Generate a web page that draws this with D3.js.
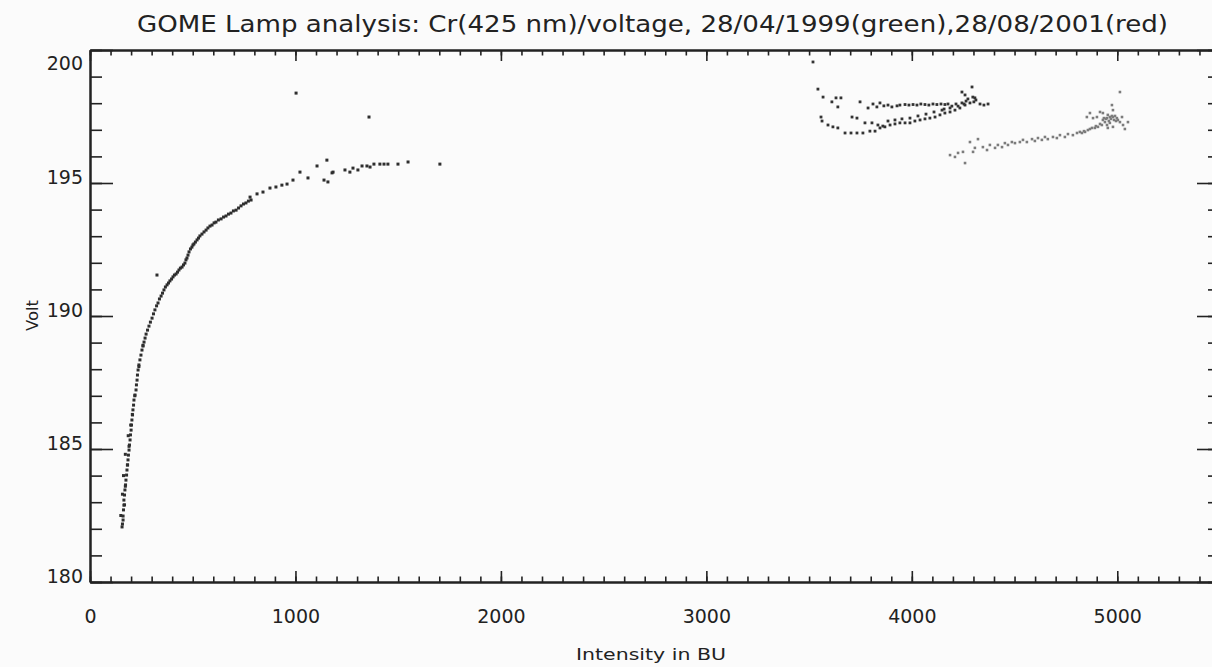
<!DOCTYPE html>
<html>
<head>
<meta charset="utf-8">
<script src="https://cdn.jsdelivr.net/npm/d3@7"></script>
<style>
  body { margin: 0; background: #fbfbfb; }
  svg { display: block; font-family: "DejaVu Sans", sans-serif; }
</style>
</head>
<body>
<div id="chart"></div>
<script>
// GOME lamp scan: intensity (BU) vs. lamp voltage.

const width = 1212;
const height = 667;

const titleText = "GOME Lamp analysis: Cr(425 nm)/voltage, 28/04/1999(green),28/08/2001(red)";
const xLabel = "Intensity in BU";
const yLabel = "Volt";

const xTicks = [0, 1000, 2000, 3000, 4000, 5000];
const yTicks = [180, 185, 190, 195, 200];

// warm-up curve, [intensity, volt]
const warmupPoints = [
  [156,182.07],[158,182.18],[161,182.33],[161,182.48],[163,182.71],[165,182.89],[165,183.08],[168,183.27],
  [170,183.46],[173,183.65],[175,183.83],[178,184.02],[180,184.21],[183,184.40],[185,184.59],[187,184.77],
  [190,184.96],[192,185.15],[195,185.34],[197,185.53],[200,185.71],[202,185.90],[204,186.09],[207,186.28],
  [209,186.47],[212,186.65],[214,186.84],[219,187.03],[224,187.22],[226,187.41],[229,187.59],[231,187.78],
  [234,187.97],[238,188.16],[243,188.35],[248,188.53],[253,188.72],[258,188.87],[263,189.02],[268,189.17],
  [273,189.32],[280,189.47],[287,189.62],[294,189.77],[302,189.92],[309,190.08],[316,190.23],[324,190.38],
  [331,190.49],[338,190.64],[346,190.75],[353,190.86],[360,190.98],[367,191.09],[375,191.17],[382,191.24],
  [389,191.32],[397,191.39],[404,191.47],[411,191.54],[419,191.58],[426,191.65],[433,191.73],[440,191.80],
  [448,191.84],[455,191.92],[462,191.99],[467,192.11],[472,192.18],[477,192.29],[482,192.41],[489,192.52],
  [496,192.59],[501,192.67],[506,192.71],[513,192.78],[521,192.86],[528,192.93],[535,193.01],[545,193.08],
  [555,193.16],[565,193.23],[574,193.31],[584,193.38],[594,193.42],[604,193.50],[613,193.53],[625,193.61],
  [638,193.65],[650,193.72],[662,193.76],[674,193.83],[686,193.87],[698,193.95],[711,193.98],[723,194.06],
  [735,194.14],[747,194.21],[759,194.25],[771,194.32],[784,194.36],
  [150,182.5],[168,182.9],[158,183.3],[172,183.6],[163,184.0],[182,184.4],[172,184.8],[190,185.1],
  [186,185.5],[198,185.9],[206,186.3],[218,187.0],[238,188.1],[258,188.9],
  [779,194.47],[813,194.59],[842,194.66],[876,194.81],[905,194.85],[934,194.92],[959,194.96],[988,195.11],
  [1022,195.41],[1061,195.19],[1105,195.64],[1139,195.11],[1153,195.86],[1158,195.04],[1178,195.38],
  [1183,195.41],[1241,195.49],[1265,195.41],[1280,195.56],[1304,195.49],[1324,195.64],[1348,195.64],
  [1363,195.60],[1382,195.71],[1411,195.71],[1431,195.71],[1450,195.71],[1499,195.71],[1548,195.79],
  [1703,195.71],
  [326,191.54],[1003,198.38],[1358,197.48]
];

// 28/04/1999 scan, [intensity, volt]
const green1999Points = [
  [3519,199.55],[3543,198.53],[3568,198.23],[3611,198.05],[3631,198.20],[3655,198.20],[3640,197.86],[3748,198.05],
  [3787,197.82],[3811,197.97],[3830,197.86],[3845,198.01],[3864,197.90],[3884,197.93],[3903,197.86],[3928,197.90],
  [3942,197.93],[3967,197.95],[3986,197.93],[4006,197.95],[4025,197.93],[4044,197.97],[4064,197.95],[4083,197.93],
  [4103,197.97],[4122,197.95],[4142,197.97],[4161,197.95],[4176,197.97],
  [3558,197.48],[3563,197.33],[3592,197.18],[3616,197.11],[3640,197.07],[3675,196.88],[3704,196.88],[3733,196.88],
  [3762,196.88],[3796,196.95],[3821,196.95],[3845,197.07],[3869,197.11],[3894,197.18],[3918,197.22],[3942,197.26],
  [3967,197.26],[3991,197.26],[4015,197.33],[4040,197.37],[4064,197.41],[4088,197.44],[4113,197.48],[4137,197.56],
  [4161,197.63],[4186,197.67],[4210,197.74],[4234,197.82],[4259,197.93],[4283,198.01],
  [3709,197.48],[3733,197.44],[3772,197.26],[3806,197.26],[3835,197.18],[3859,197.14],[3884,197.33],[3918,197.37],
  [3952,197.41],[3991,197.44],[4030,197.52],[4069,197.59],[4108,197.67],[4147,197.74],[4186,197.82],[4225,197.89],
  [4254,197.97],
  [4157,197.78],[4195,197.89],[4215,197.97],[4244,198.01],[4264,198.08],[4302,198.05],[4332,197.97],[4351,197.93],
  [4371,197.97],
  [4244,198.42],[4259,198.31],[4293,198.61],[4297,198.23],[4307,198.20],[4273,198.16],[4312,198.12]
];

// 28/08/2001 scan, [intensity, volt]
const red2001Points = [
  [4186,196.05],[4210,195.98],[4225,196.13],[4249,196.17],[4259,195.75],[4283,196.54],[4298,196.17],[4307,196.32],
  [4322,196.65],[4346,196.35],[4366,196.24],[4380,196.43],[4405,196.32],[4419,196.43],[4439,196.35],[4453,196.50],
  [4468,196.43],[4487,196.54],[4502,196.50],[4526,196.54],[4541,196.62],[4560,196.54],[4585,196.65],[4599,196.58],
  [4614,196.69],[4633,196.62],[4648,196.73],[4662,196.65],[4687,196.73],[4706,196.69],[4721,196.80],[4745,196.73],
  [4760,196.84],[4784,196.80],[4804,196.88],[4828,196.88],[4843,196.92],[4867,197.03],[4891,197.07],[4906,197.11],
  [4925,197.18],[4940,197.29],[4950,197.44],[4964,197.48],[4979,197.48],[4954,197.56],[4930,197.63],[4867,197.63],
  [4901,197.48],[4916,197.67],[4974,197.93],[4979,197.74],[5013,198.42],[4998,197.44],[5013,197.29],[5028,197.18],
  [5037,197.03],[5052,197.29],[4979,197.11],[4954,197.07],[4950,197.18],[5023,197.48],[4930,197.37],[4882,197.44],
  [4852,197.48],
  [4945,197.41],[4959,197.33],[4969,197.41],[4984,197.37],[4994,197.33],[4964,197.26],[4935,197.44],[4974,197.52],
  [4989,197.52],[5003,197.37],[4916,197.22],[4896,197.14],[4877,197.07],[4857,196.99],[4838,196.95],[4818,196.92]
];

const x = d3.scaleLinear().domain([0, 5500]).range([90, 1220]);
const y = d3.scaleLinear().domain([180, 200]).range([582, 50]);

const svg = d3.select("#chart")
    .append("svg")
    .attr("width", width)
    .attr("height", height);

svg.append("rect")
    .attr("width", width)
    .attr("height", height)
    .attr("fill", "#fbfbfb");

function styleAxis(g) {
  g.select(".domain").attr("stroke", "#222").attr("stroke-width", 2);
  g.selectAll(".tick line").attr("stroke", "#222").attr("stroke-width", 1.6);
  g.selectAll(".tick text")
      .attr("fill", "#222")
      .style("font-size", "19px")
      .style("font-family", "\"DejaVu Sans\", sans-serif");
}

const minorX = d3.range(0, 5501, 100);
const minorY = d3.range(180, 201, 1);

// bottom
svg.append("g")
    .attr("transform", "translate(0,582)")
    .call(d3.axisBottom(x).tickValues(minorX).tickSize(-5.5).tickSizeOuter(0).tickFormat(""))
    .call(styleAxis);
svg.append("g")
    .attr("transform", "translate(0,582)")
    .call(d3.axisBottom(x).tickValues(xTicks).tickSize(-11).tickSizeOuter(0).tickPadding(28).tickFormat(d3.format("d")))
    .call(styleAxis);

// top
svg.append("g")
    .attr("transform", "translate(0,50)")
    .call(d3.axisTop(x).tickValues(minorX).tickSize(-5.5).tickSizeOuter(0).tickFormat(""))
    .call(styleAxis);
svg.append("g")
    .attr("transform", "translate(0,50)")
    .call(d3.axisTop(x).tickValues(xTicks).tickSize(-11).tickSizeOuter(0).tickFormat(""))
    .call(styleAxis);

// left
svg.append("g")
    .attr("transform", "translate(90,0)")
    .call(d3.axisLeft(y).tickValues(minorY).tickSize(-12).tickSizeOuter(0).tickFormat(""))
    .call(styleAxis);
const leftAxis = svg.append("g")
    .attr("transform", "translate(90,0)")
    .call(d3.axisLeft(y).tickValues(yTicks).tickSize(-23).tickSizeOuter(0).tickPadding(7).tickFormat(d3.format("d")))
    .call(styleAxis);
// labels sit a little above their ticks, the top one hangs below the corner
leftAxis.selectAll(".tick text").attr("dy", d => d === 200 ? "1.05em" : "0.05em");

// right
svg.append("g")
    .attr("transform", "translate(1220,0)")
    .call(d3.axisRight(y).tickValues(minorY).tickSize(-12).tickSizeOuter(0).tickFormat(""))
    .call(styleAxis);
svg.append("g")
    .attr("transform", "translate(1220,0)")
    .call(d3.axisRight(y).tickValues(yTicks).tickSize(-23).tickSizeOuter(0).tickFormat(""))
    .call(styleAxis);

// points
function plotPoints(data, color, size) {
  svg.append("g")
    .selectAll("rect")
    .data(data)
    .join("rect")
      .attr("x", d => x(d[0]) - size / 2)
      .attr("y", d => y(d[1]) - size / 2)
      .attr("width", size)
      .attr("height", size)
      .attr("fill", color);
}

plotPoints(warmupPoints, "#2e2e2e", 3);
plotPoints(green1999Points, "#333", 2.8);
plotPoints(red2001Points, "#7c7c7c", 2.6);

// texts
svg.append("text")
    .attr("x", 137)
    .attr("y", 32)
    .attr("textLength", 1031)
    .attr("lengthAdjust", "spacingAndGlyphs")
    .attr("fill", "#222")
    .style("font-size", "23px")
    .text(titleText);

svg.append("text")
    .attr("x", 576)
    .attr("y", 660)
    .attr("textLength", 150)
    .attr("lengthAdjust", "spacingAndGlyphs")
    .attr("fill", "#222")
    .style("font-size", "15px")
    .text(xLabel);

svg.append("text")
    .attr("transform", "translate(38,331) rotate(-90)")
    .attr("textLength", 31)
    .attr("lengthAdjust", "spacingAndGlyphs")
    .attr("fill", "#222")
    .style("font-size", "15px")
    .text(yLabel);
</script>
</body>
</html>
